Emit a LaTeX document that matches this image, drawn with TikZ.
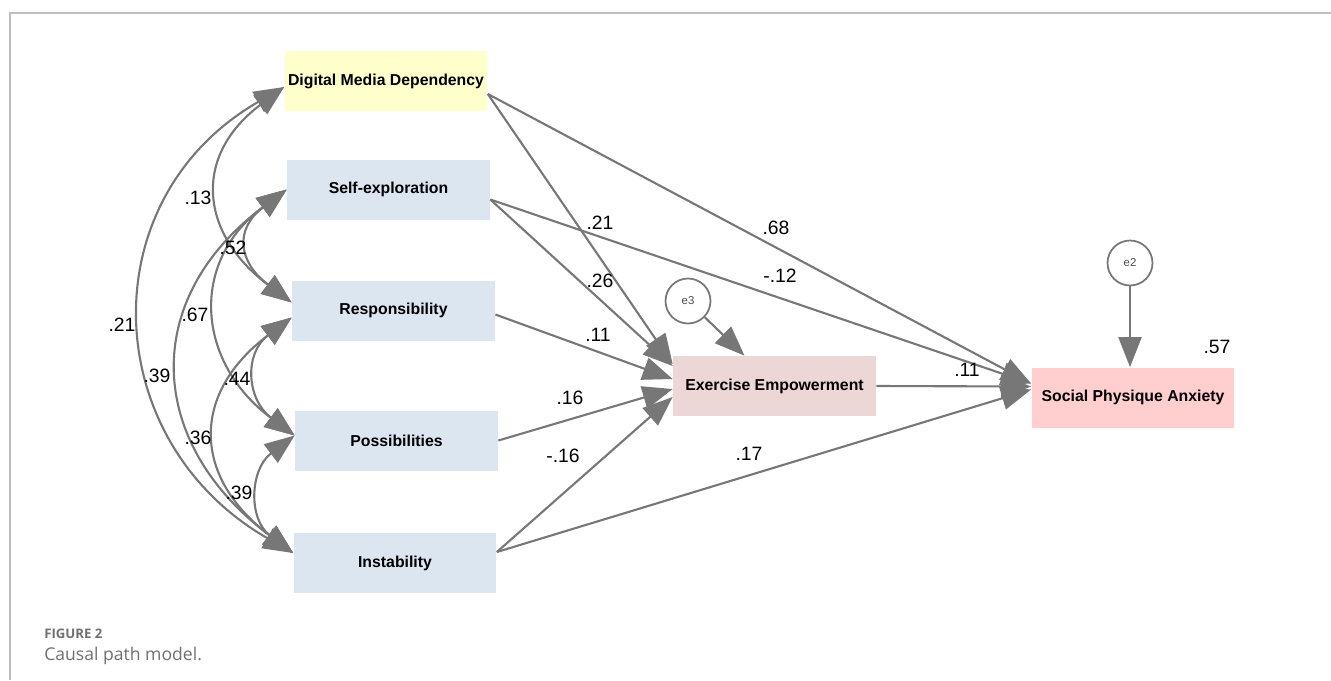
\documentclass[tikz,border=0pt]{standalone}
\usepackage{fontspec}
\setmainfont{Liberation Sans}
\newfontfamily\capfont{Open Sans}
\usetikzlibrary{arrows.meta}

\definecolor{pathgray}{RGB}{119,119,119}
\definecolor{dmdfill}{RGB}{255,255,204}
\definecolor{facetfill}{RGB}{220,230,241}
\definecolor{eefill}{RGB}{237,214,214}
\definecolor{spafill}{RGB}{255,206,206}
\definecolor{framegray}{RGB}{190,190,190}
\definecolor{capgray}{RGB}{112,112,112}

\begin{document}
\begin{tikzpicture}
  [
    x = 0.02cm, y = -0.02cm,
    var/.style = {minimum width = 4.06cm, minimum height = 1.2cm, inner sep = 0pt,
        font = \fontsize{9}{10}\selectfont\bfseries},
    err/.style = {circle, draw = pathgray, line width = 1pt, minimum size = 0.9cm,
        inner sep = 0pt, font = \fontsize{6.5}{7}\selectfont, text = black!70},
    effect/.style = {draw = pathgray, line width = 1.2pt,
        -{Triangle[length = 0.6cm, width = 0.46cm]}},
    cov/.style = {draw = pathgray, line width = 1.2pt,
        {Triangle[length = 0.6cm, width = 0.46cm]}-{Triangle[length = 0.6cm, width = 0.46cm]}},
    coef/.style = {inner sep = 1pt, font = \fontsize{11}{12}\selectfont},
  ]

  \useasboundingbox (0,0) rectangle (1331,680);
  \draw[framegray, line width = 1.1pt] (10,680) -- (10,13) -- (1331,13);

  \node[var, fill = dmdfill] (dmd) at (386,81) {Digital Media Dependency};
  \node[var, fill = facetfill] (se) at (388.5,189.5) {Self-exploration};
  \node[var, fill = facetfill] (resp) at (393.5,310.5) {Responsibility};
  \node[var, fill = facetfill] (poss) at (396.5,440.5) {Possibilities};
  \node[var, fill = facetfill] (inst) at (395,563) {Instability};
  \node[var, fill = eefill] (ee) at (774.5,386) {Exercise Empowerment};
  \node[var, fill = spafill] (spa) at (1133,397.5) {Social Physique Anxiety};
  \node[err] (e3) at (688,301) {e3};
  \node[err] (e2) at (1130,263) {e2};

  \coordinate (dmd-l) at ([yshift = -0.12cm]dmd.west);
  \coordinate (se-l) at (se.west);
  \coordinate (resp-lu) at ([yshift = 0.16cm]resp.west);
  \coordinate (resp-ld) at ([yshift = -0.14cm]resp.west);
  \coordinate (poss-l) at ([yshift = 0.1cm]poss.west);
  \coordinate (inst-l) at ([yshift = 0.2cm]inst.west);

  \draw[cov] (dmd-l) .. controls +(-195,112) and +(-195,-112) .. (inst-l);
  \draw[cov] (dmd-l) .. controls +(-92,69) and +(-92,-69) .. (resp-lu);
  \draw[cov] (se-l) .. controls +(-53,40) and +(-53,-40) .. (resp-lu);
  \draw[cov] (se-l) .. controls +(-98,73) and +(-98,-73) .. (poss-l);
  \draw[cov] (se-l) .. controls +(-147,110) and +(-147,-110) .. (inst-l);
  \draw[cov] (resp-ld) .. controls +(-48,36) and +(-48,-36) .. (poss-l);
  \draw[cov] (resp-ld) .. controls +(-101,76) and +(-101,-76) .. (inst-l);
  \draw[cov] (poss-l) .. controls +(-45,34) and +(-45,-34) .. (inst-l);

  \coordinate (dmd-r) at ([yshift = -0.26cm]dmd.east);
  \coordinate (se-r) at ([yshift = -0.2cm]se.east);
  \coordinate (resp-r) at ([yshift = -0.08cm]resp.east);
  \coordinate (poss-r) at (poss.east);
  \coordinate (inst-r) at ([yshift = 0.22cm]inst.east);

  \draw[effect] (dmd-r) -- ([yshift = 0.44cm]ee.west);
  \draw[effect] (se-r) -- ([yshift = 0.4cm]ee.west);
  \draw[effect] (resp-r) -- ([yshift = 0.14cm]ee.west);
  \draw[effect] (poss-r) -- ([yshift = -0.06cm]ee.west);
  \draw[effect] (inst-r) -- ([yshift = -0.22cm]ee.west);
  \draw[effect] (dmd-r) -- ([yshift = 0.28cm]spa.west);
  \draw[effect] (se-r) -- ([yshift = 0.28cm]spa.west);
  \draw[effect] (ee.east) -- ([yshift = 0.22cm]spa.west);
  \draw[effect] (inst-r) -- ([yshift = 0.16cm]spa.west);
  \draw[effect] (e3) -- ([xshift = -0.6cm]ee.north);
  \draw[effect] (e2) -- (e2 |- spa.north);

  \foreach \nm/\x/\y/\val in {k1/198/198/.13, k2/233/248/.52, k3/122/325/.21,
      k4/195/315/.67, k5/157/376/.39, k6/237/379/.44, k7/198/438/.36, k8/239/493/.39,
      k9/600/223/.21, k10/600/281/.26, k11/776/228/.68, k12/780/276/-.12,
      k13/598/335/.11, k14/570/398/.16, k15/563/456/-.16, k16/749/454/.17,
      k17/967/370/.11, k18/1217/347/.57}
    \node[coef] (\nm) at (\x,\y) {\val};

  \node[anchor = west, inner sep = 0pt, text = capgray,
      font = \capfont\fontsize{7.5}{9}\selectfont\bfseries]
    (fignum) at (44,634) {FIGURE 2};
  \node[anchor = west, inner sep = 0pt, text = capgray,
      font = \capfont\fontsize{10}{12}\selectfont]
    (figcap) at (44,656) {Causal path model.};

\end{tikzpicture}
\end{document}
